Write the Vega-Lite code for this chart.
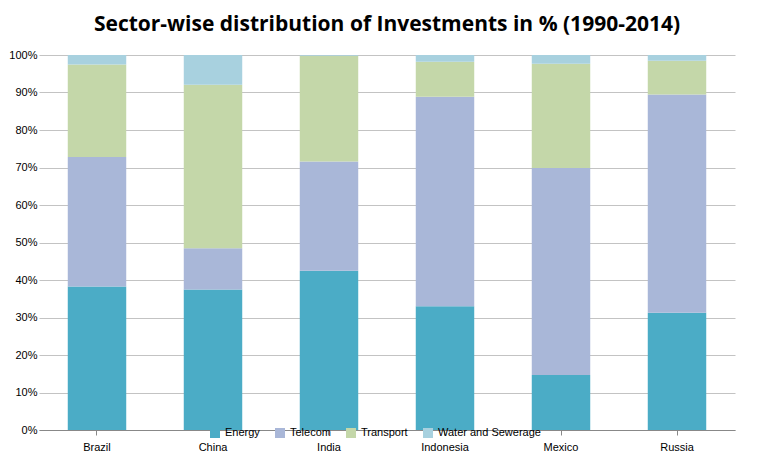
{
"$schema": "https://vega.github.io/schema/vega-lite/v6.json",
"width": 771, "height": 466,
"autosize": {"type": "fit", "contains": "padding"},
"padding": {"left": 8, "right": 36, "top": 14, "bottom": 14},
"background": "white",
"title": {"text": "Sector-wise distribution of Investments in % (1990-2014)", "font": "Open Sans", "fontSize": 21, "fontWeight": "bold", "color": "#000", "offset": 14},
"config": {"view": {"stroke": null}, "font": "Liberation Sans"},
"data": {"values": [
{"c": "Brazil", "s": "Energy", "v": 38.3}, {"c": "Brazil", "s": "Telecom", "v": 34.5}, {"c": "Brazil", "s": "Transport", "v": 24.7}, {"c": "Brazil", "s": "Water and Sewerage", "v": 2.5},
{"c": "China", "s": "Energy", "v": 37.5}, {"c": "China", "s": "Telecom", "v": 11.0}, {"c": "China", "s": "Transport", "v": 43.6}, {"c": "China", "s": "Water and Sewerage", "v": 7.9},
{"c": "India", "s": "Energy", "v": 42.5}, {"c": "India", "s": "Telecom", "v": 29.1}, {"c": "India", "s": "Transport", "v": 28.2}, {"c": "India", "s": "Water and Sewerage", "v": 0.2},
{"c": "Indonesia", "s": "Energy", "v": 33.0}, {"c": "Indonesia", "s": "Telecom", "v": 55.9}, {"c": "Indonesia", "s": "Transport", "v": 9.3}, {"c": "Indonesia", "s": "Water and Sewerage", "v": 1.8},
{"c": "Mexico", "s": "Energy", "v": 14.7}, {"c": "Mexico", "s": "Telecom", "v": 55.2}, {"c": "Mexico", "s": "Transport", "v": 27.8}, {"c": "Mexico", "s": "Water and Sewerage", "v": 2.3},
{"c": "Russia", "s": "Energy", "v": 31.3}, {"c": "Russia", "s": "Telecom", "v": 58.2}, {"c": "Russia", "s": "Transport", "v": 9.0}, {"c": "Russia", "s": "Water and Sewerage", "v": 1.5}
]},
"transform": [{"calculate": "indexof(['Energy','Telecom','Transport','Water and Sewerage'], datum.s)", "as": "o"}],
"mark": {"type": "bar", "width": {"band": 0.56}},
"encoding": {
"x": {"field": "c", "type": "nominal", "title": null, "axis": {"labelAngle": 0, "labelFontSize": 11, "labelColor": "#000", "domainColor": "#888", "tickColor": "#888", "labelPadding": 6}},
"y": {"field": "v", "type": "quantitative", "stack": "normalize", "title": null, "axis": {"format": ".0%", "tickCount": 10, "labelFontSize": 11, "labelColor": "#000", "gridColor": "#888", "gridOpacity": 0.5, "domain": false, "ticks": false}},
"color": {"field": "s", "type": "nominal", "title": null, "sort": ["Energy","Telecom","Transport","Water and Sewerage"],
"scale": {"domain": ["Energy","Telecom","Transport","Water and Sewerage"], "range": ["#4BACC6","#A9B7D8","#C4D7A9","#A8D1DF"]},
"legend": {"orient": "none", "legendX": 170, "legendY": 372, "direction": "horizontal", "symbolType": "square", "labelFontSize": 11, "labelColor": "#000", "columnPadding": 14}},
"order": {"field": "o"}
}
}
